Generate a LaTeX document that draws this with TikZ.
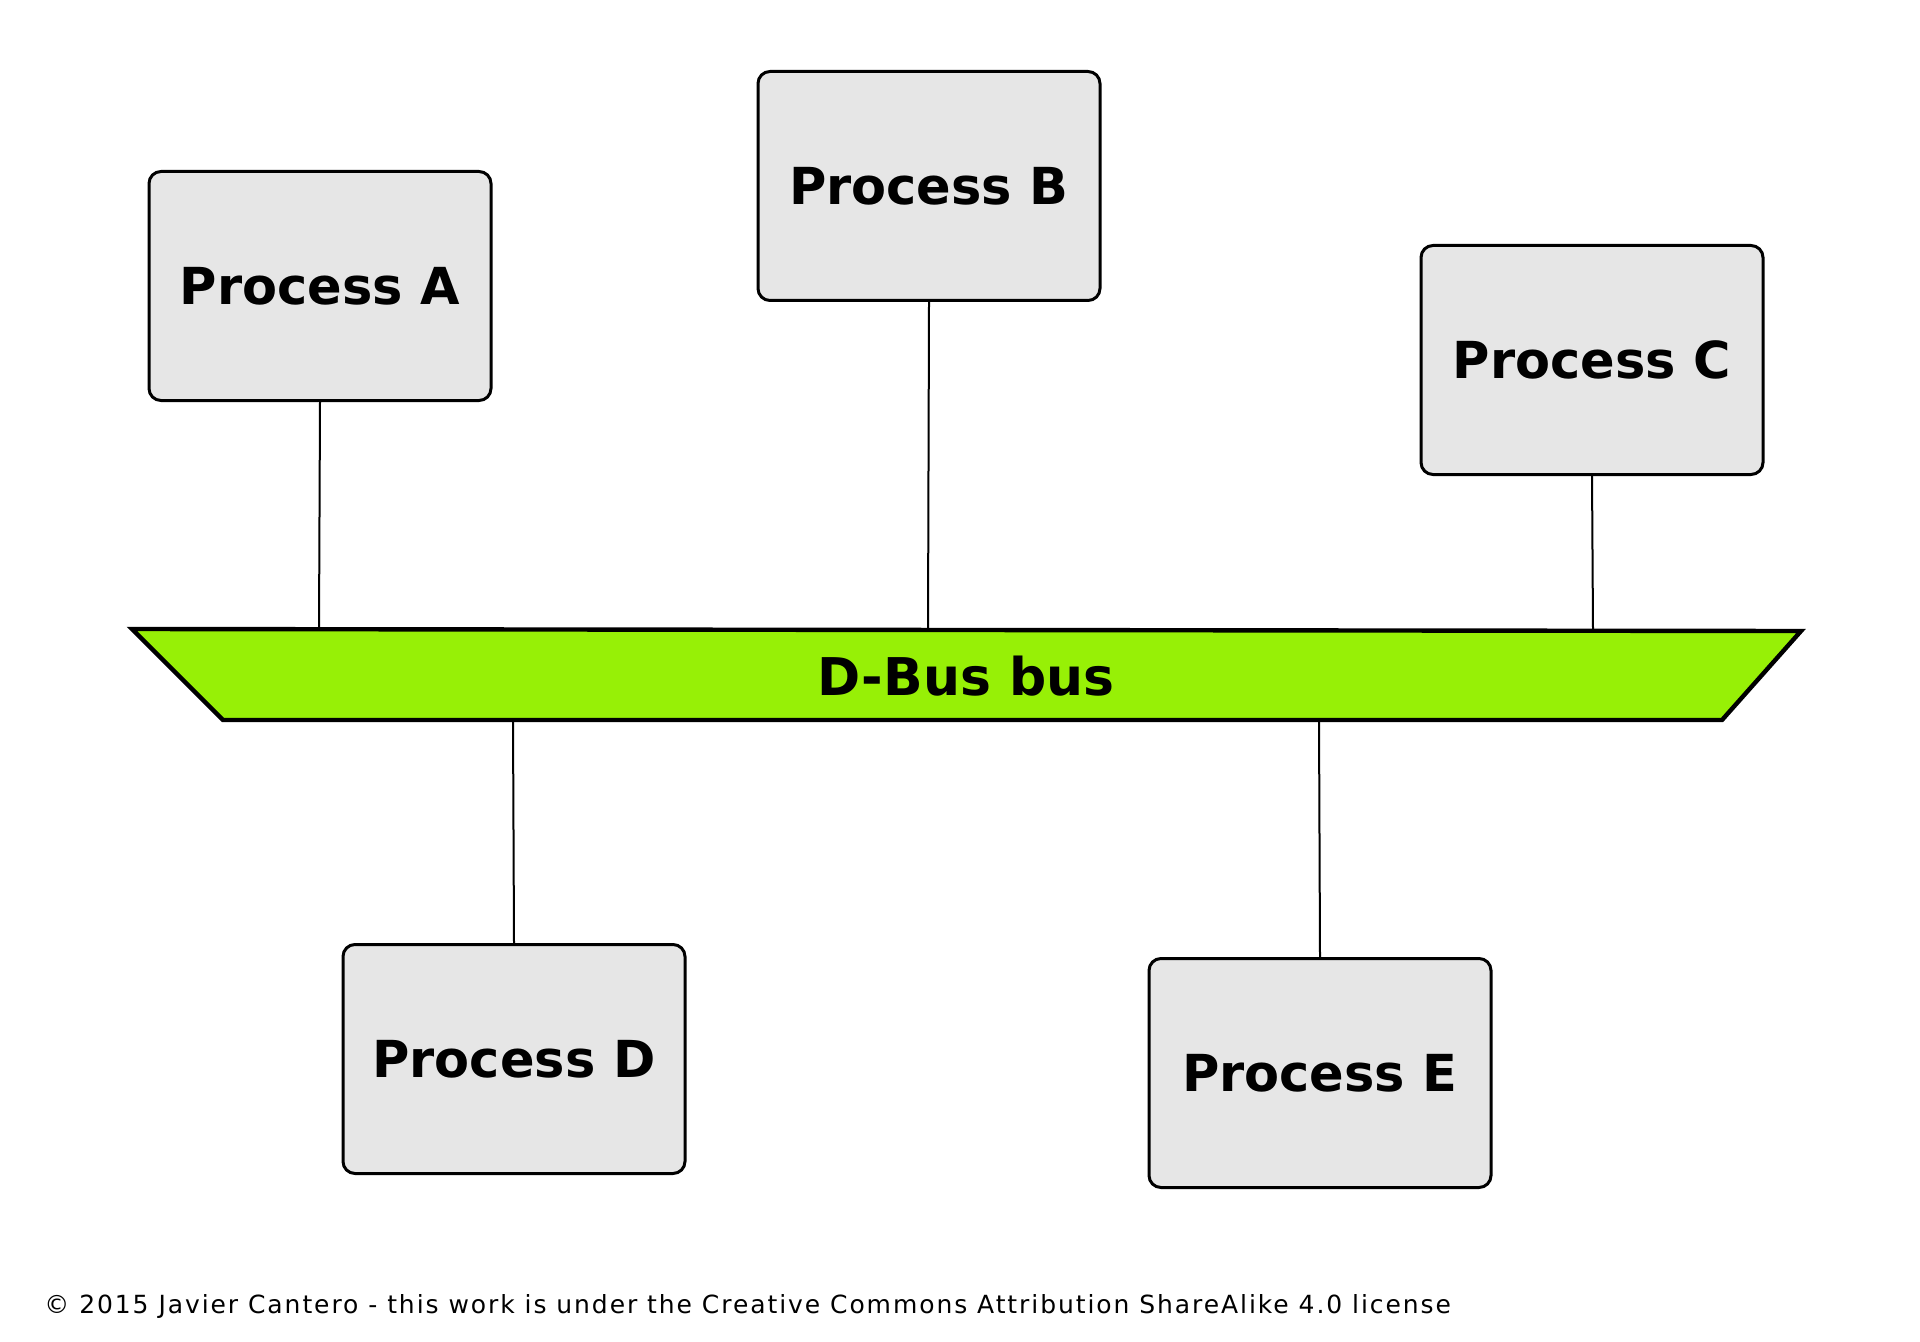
\documentclass[tikz,border=0pt]{standalone}
\usepackage{fontspec}
\setmainfont{DejaVu Sans}
\newfontfamily\footfont[LetterSpace=7.7]{DejaVu Sans}
\begin{document}
\begin{tikzpicture}[x=0.5pt,y=-0.5pt,
  proc/.style={draw=black, line width=1.5pt, fill=boxgray, rounded corners=6pt,
    minimum width=171pt, minimum height=114.5pt, inner sep=0pt,
    font=\fontsize{25.5}{30}\selectfont\bfseries},
  conn/.style={draw=black, line width=1pt},
  busstyle/.style={draw=black, line width=2.2pt, fill=busgreen, line join=miter}]
\definecolor{boxgray}{HTML}{E6E6E6}
\definecolor{busgreen}{HTML}{97F006}
\useasboundingbox (0,0) rectangle (1920,1342);
% processes
\node[proc] (A) at (320,286) {Process A};
\node[proc] (B) at (929,186) {Process B};
\node[proc] (C) at (1592,360) {Process C};
\node[proc] (D) at (514,1059) {Process D};
\node[proc] (E) at (1320,1073) {Process E};
% bus attachment points
\coordinate (ta) at (319,630);
\coordinate (tb) at (928,630);
\coordinate (tc) at (1593,631);
\coordinate (bd) at (513,720);
\coordinate (be) at (1319,720);
% connectors
\draw[conn] (A.south) -- (ta);
\draw[conn] (B.south) -- (tb);
\draw[conn] (C.south) -- (tc);
\draw[conn] (D.north) -- (bd);
\draw[conn] (E.north) -- (be);
% bus
\draw[busstyle] (132,629) -- (1801,631) -- (1722,720) -- (223,720) -- cycle;
\node[font=\fontsize{26}{30}\selectfont\bfseries] (bus) at (966,676) {D-Bus bus};
% footer
\node[anchor=base west, inner sep=0pt, font=\fontsize{12.5}{15}\footfont] (copy) at (44,1313) {© 2015 Javier Cantero - this work is under the Creative Commons Attribution ShareAlike 4.0 license};
\end{tikzpicture}
\end{document}
